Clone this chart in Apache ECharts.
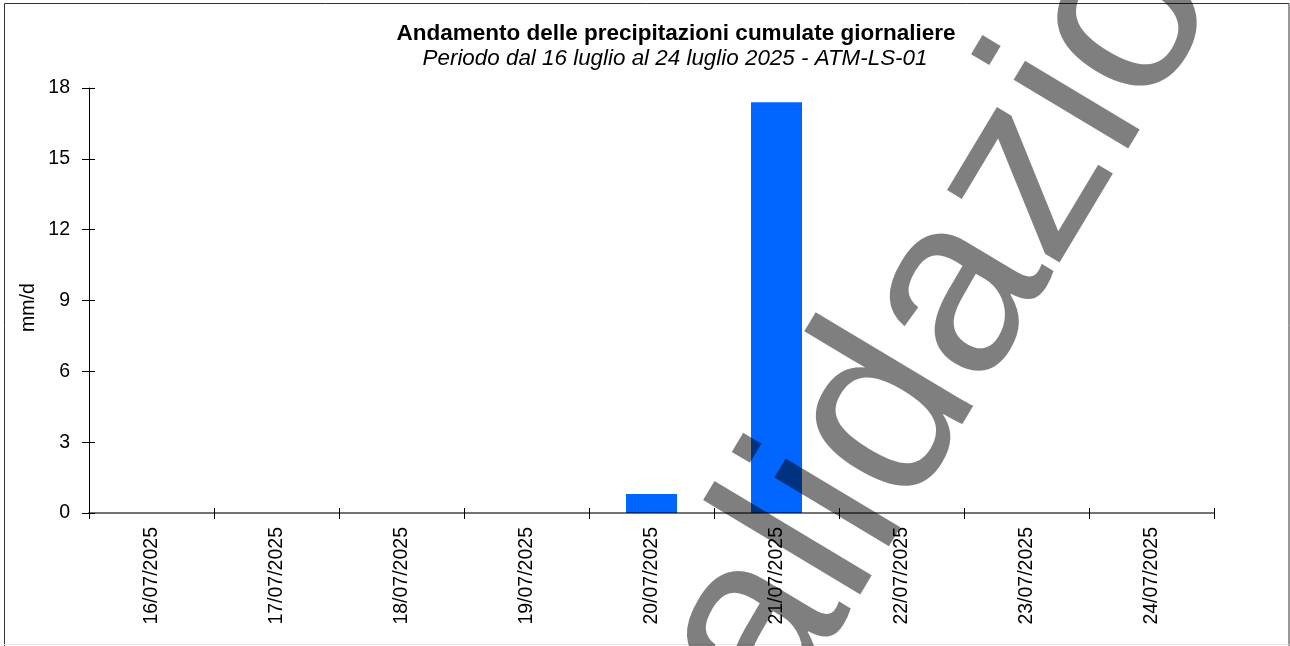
<!DOCTYPE html>
<html>
<head>
<meta charset="utf-8">
<script src="https://cdn.jsdelivr.net/npm/echarts@6/dist/echarts.min.js"></script>
<style>
html,body{margin:0;padding:0;background:#fff;}
#chart{width:1290px;height:646px;}
</style>
</head>
<body>
<div id="chart"></div>
<script>
const titleText = 'Andamento delle precipitazioni cumulate giornaliere';
const subtitleText = 'Periodo dal 16 luglio al 24 luglio 2025 - ATM-LS-01';
const categories = ['16/07/2025','17/07/2025','18/07/2025','19/07/2025','20/07/2025','21/07/2025','22/07/2025','23/07/2025','24/07/2025'];
const precipitation = [0, 0, 0, 0, 0.8, 17.4, 0, 0, 0];
const yTicks = { min: 0, max: 18, interval: 3 };
const yAxisName = 'mm/d';
const watermarkText = 'validazione';

const FONT = '"Liberation Sans", Arial, sans-serif';
const chart = echarts.init(document.getElementById('chart'), null, { renderer: 'canvas' });
const rot = 59 * Math.PI / 180;

chart.setOption({
  animation: false,
  backgroundColor: '#ffffff',
  title: [{
    text: titleText,
    left: 671,
    top: 17,
    textAlign: 'center',
    textStyle: { fontFamily: FONT, fontSize: 22.5, fontWeight: 'bold', color: '#000', lineHeight: 24 }
  }, {
    text: subtitleText,
    left: 670,
    top: 42,
    textAlign: 'center',
    textStyle: { fontFamily: FONT, fontSize: 22.4, fontStyle: 'italic', fontWeight: 'normal', color: '#000', lineHeight: 24 }
  }],
  grid: { left: 89, right: 76, top: 88, bottom: 133, containLabel: false },
  xAxis: [{
    type: 'category',
    data: categories,
    boundaryGap: true,
    z: 5,
    axisLine: { show: true, lineStyle: { color: 'rgba(0,0,0,0.55)', width: 2 } },
    axisTick: { show: true, inside: false, length: 6, lineStyle: { color: '#000', width: 1 } },
    axisLabel: { rotate: 90, margin: 14, fontFamily: FONT, fontSize: 19.5, color: '#000' },
    splitLine: { show: false }
  }, {
    type: 'category',
    data: categories,
    position: 'bottom',
    boundaryGap: true,
    z: 5,
    axisLine: { show: false },
    axisTick: { show: true, inside: true, length: 5, lineStyle: { color: '#000', width: 1 } },
    axisLabel: { show: false },
    splitLine: { show: false }
  }],
  yAxis: [{
    type: 'value',
    min: yTicks.min, max: yTicks.max, interval: yTicks.interval,
    z: 5,
    axisLine: { show: true, lineStyle: { color: '#000', width: 1 } },
    axisTick: { show: true, inside: false, length: 7, lineStyle: { color: '#000', width: 1 } },
    axisLabel: { margin: 19, fontFamily: FONT, fontSize: 19.5, color: '#000' },
    splitLine: { show: false }
  }, {
    type: 'value',
    position: 'left',
    min: yTicks.min, max: yTicks.max, interval: yTicks.interval,
    z: 5,
    axisLine: { show: false },
    axisTick: { show: true, inside: true, length: 6, lineStyle: { color: '#000', width: 1 } },
    axisLabel: { show: false },
    splitLine: { show: false }
  }],
  series: [{
    type: 'bar',
    data: precipitation,
    xAxisIndex: 0,
    yAxisIndex: 0,
    barWidth: 51,
    itemStyle: { color: '#0066FF' }
  }],
  graphic: [
    {
      type: 'text', silent: true, z: 10,
      x: 29, y: 307.5, rotation: Math.PI / 2,
      style: {
        text: yAxisName,
        font: 'normal 19.5px ' + FONT,
        fill: '#000',
        textAlign: 'center',
        textVerticalAlign: 'middle'
      }
    },
    {
      type: 'rect', silent: true, z: 50,
      shape: { x: 4.5, y: 3.5, width: 1284.5, height: 700 },
      style: { fill: 'none', stroke: '#333', lineWidth: 1 }
    },
    {
      type: 'line', silent: true, z: 50,
      shape: { x1: 4, y1: 644.5, x2: 1289, y2: 644.5 },
      style: { stroke: '#e6e6e6', lineWidth: 1 }
    },
    {
      type: 'text', silent: true, z: 100,
      x: 654, y: 802, rotation: rot,
      style: {
        text: watermarkText,
        font: 'normal 253px ' + FONT,
        fill: 'rgba(0,0,0,0.5)',
        textAlign: 'left',
        textVerticalAlign: 'middle'
      }
    }
  ]
});
</script>
</body>
</html>
